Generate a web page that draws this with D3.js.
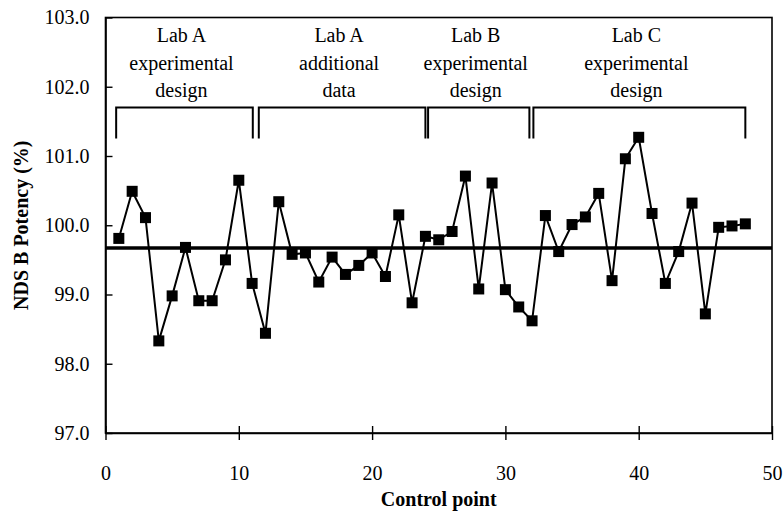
<!DOCTYPE html>
<html>
<head>
<meta charset="utf-8">
<script src="https://cdn.jsdelivr.net/npm/d3@7"></script>
<style>
  body { margin: 0; background: #fff; }
  svg text { font-family: "Liberation Serif", "Times New Roman", serif; fill: #000; }
</style>
</head>
<body>
<div id="chart"></div>
<script>
(function(){
	var W = 784, H = 513;
	var margin = {left: 105.5, right: 12, top: 17.5, bottom: 80};

	// control points 1..48
	var points = [1,2,3,4,5,6,7,8,9,10,11,12,13,14,15,16,17,18,19,20,21,22,23,24,
		25,26,27,28,29,30,31,32,33,34,35,36,37,38,39,40,41,42,43,44,45,46,47,48];
	var potency = [99.81,100.49,100.11,98.33,98.98,99.68,98.91,98.91,99.50,100.65,99.16,98.44,
		100.34,99.58,99.60,99.18,99.54,99.29,99.42,99.60,99.26,100.15,98.88,99.84,
		99.79,99.91,100.71,99.08,100.61,99.07,98.82,98.62,100.14,99.62,100.01,100.12,
		100.46,99.20,100.96,101.27,100.17,99.16,99.62,100.32,98.72,99.97,99.99,100.02];
	var meanValue = [99.67];

	var xTicks = [0,10,20,30,40,50];
	var yTicks = [97,98,99,100,101,102,103];

	// brackets over the groups: [start, end] in control point units
	var groupNames = [["Lab A","experimental","design"],["Lab A","additional","data"],
		["Lab B","experimental","design"],["Lab C","experimental","design"]];
	var groupStart = [0.8, 11.5, 24.2, 32.1];
	var groupEnd = [11.05, 24.0, 31.8, 48.0];

	var svg = d3.select("#chart").append("svg")
		.attr("width", W).attr("height", H);

	var x = d3.scaleLinear().domain([0,50]).range([margin.left, W - margin.right]);
	var y = d3.scaleLinear().domain([97,103]).range([H - margin.bottom, margin.top]);

	// 枠
	svg.append("rect")
		.attr("x", x(0)).attr("y", y(103))
		.attr("width", x(50)-x(0)).attr("height", y(97)-y(103))
		.attr("fill", "none").attr("stroke", "#000").attr("stroke-width", 1.6);

	// x軸
	var xAxis = d3.axisBottom(x).tickValues(xTicks).tickFormat(d3.format("d"))
		.tickSizeInner(7).tickSizeOuter(0).tickPadding(26);
	var gx = svg.append("g").attr("transform", "translate(0," + y(97) + ")").call(xAxis);
	gx.select(".domain").attr("stroke-width", 1.6);
	gx.selectAll(".tick line").attr("y1", -7).attr("stroke-width", 1.4);
	gx.selectAll(".tick text").attr("font-size", 20).attr("font-family", "Liberation Serif");

	// y軸
	var yAxis = d3.axisLeft(y).tickValues(yTicks).tickFormat(d3.format(".1f"))
		.tickSizeInner(8).tickSizeOuter(0).tickPadding(10);
	var gy = svg.append("g").attr("transform", "translate(" + x(0) + ",0)").call(yAxis);
	gy.select(".domain").attr("stroke-width", 1.6);
	gy.selectAll(".tick line").attr("x2", 7).attr("stroke-width", 1.4);
	gy.selectAll(".tick text").attr("font-size", 20).attr("font-family", "Liberation Serif")
		.attr("dx", 2);

	// 平均線
	svg.selectAll("line.mean").data(meanValue).enter().append("line")
		.attr("class", "mean")
		.attr("x1", x(0)).attr("x2", x(50))
		.attr("y1", function(d){ return y(d); })
		.attr("y2", function(d){ return y(d); })
		.attr("stroke", "#000").attr("stroke-width", 3.5);

	// 折れ線
	var line = d3.line()
		.x(function(d, i){ return x(points[i]); })
		.y(function(d){ return y(d); });
	svg.append("path").datum(potency)
		.attr("d", line).attr("fill", "none")
		.attr("stroke", "#000").attr("stroke-width", 2);

	// マーカー
	var s = 11;
	svg.selectAll("rect.pt").data(potency).enter().append("rect")
		.attr("class", "pt")
		.attr("x", function(d, i){ return x(points[i]) - s/2; })
		.attr("y", function(d){ return y(d) - s/2; })
		.attr("width", s).attr("height", s)
		.attr("fill", "#000");

	// 括弧とラベル
	var bTop = 107.5, bBot = 138.5;
	var groups = svg.selectAll("g.grp").data(groupNames).enter().append("g").attr("class", "grp");
	groups.append("path")
		.attr("d", function(d, i){
			var a = x(groupStart[i]), b = x(groupEnd[i]);
			return "M" + a + "," + bBot + "V" + bTop + "H" + b + "V" + bBot;
		})
		.attr("fill", "none").attr("stroke", "#000").attr("stroke-width", 2);
	groups.each(function(d, i){
		var cx = (x(groupStart[i]) + x(groupEnd[i])) / 2 - 3;
		d3.select(this).selectAll("text").data(d).enter().append("text")
			.attr("x", cx)
			.attr("y", function(t, j){ return 42 + j * 27.5; })
			.attr("text-anchor", "middle")
			.attr("font-size", 20)
			.text(function(t){ return t; });
	});

	// 軸タイトル
	svg.append("text")
		.attr("x", (x(0) + x(50)) / 2)
		.attr("y", 506)
		.attr("text-anchor", "middle")
		.attr("font-size", 20).attr("font-weight", "bold")
		.text("Control point");
	svg.append("text")
		.attr("transform", "translate(28," + y(100) + ") rotate(-90)")
		.attr("text-anchor", "middle")
		.attr("font-size", 20).attr("font-weight", "bold")
		.text("NDS B Potency (%)");
})();
</script>
</body>
</html>
